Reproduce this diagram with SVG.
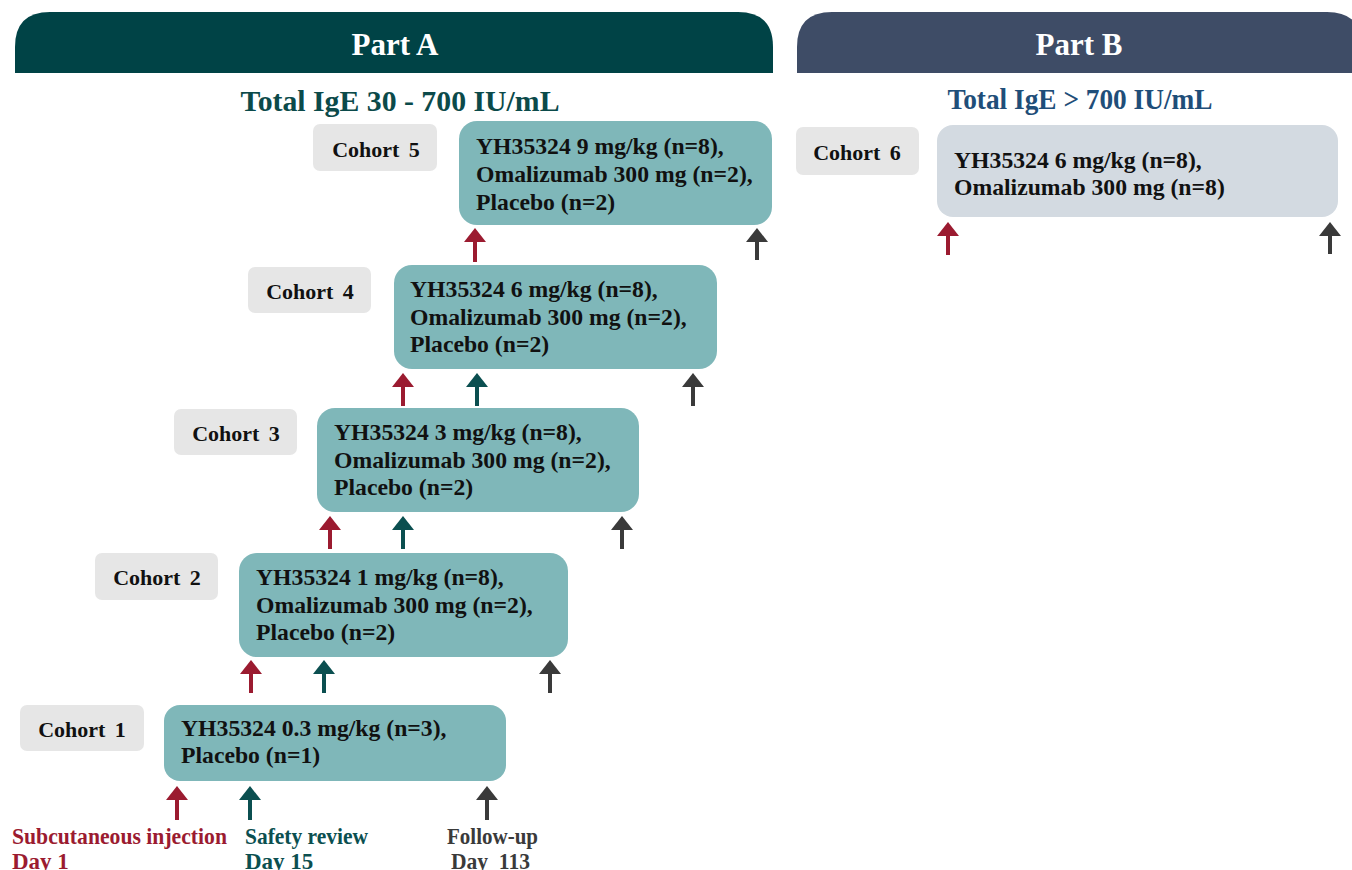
<svg xmlns="http://www.w3.org/2000/svg" width="1352" height="870" viewBox="0 0 1352 870">
<style>
text{font-family:"Liberation Serif","Times New Roman",serif;font-weight:bold}
.hdr{fill:#fff;font-size:31px;text-anchor:middle}
.lbl{fill:#E6E6E6}
.lt{font-size:22px;fill:#111;text-anchor:middle;word-spacing:4px}
.box{fill:#7FB7B9}
.bt{font-size:23.7px;fill:#111}
.ar{stroke-width:4;fill:none}
.r{stroke:#9B1B30}.t{stroke:#0B4F50}.g{stroke:#3A3A3A}
.lg{font-size:23px}
</style>
<defs>
<marker id="mr" viewBox="0 -11 14 22" markerWidth="14" markerHeight="22" refX="0" refY="0" markerUnits="userSpaceOnUse" orient="auto"><path d="M0,-11L14,0L0,11Z" fill="#9B1B30"/></marker>
<marker id="mt" viewBox="0 -11 14 22" markerWidth="14" markerHeight="22" refX="0" refY="0" markerUnits="userSpaceOnUse" orient="auto"><path d="M0,-11L14,0L0,11Z" fill="#0B4F50"/></marker>
<marker id="mg" viewBox="0 -11 14 22" markerWidth="14" markerHeight="22" refX="0" refY="0" markerUnits="userSpaceOnUse" orient="auto"><path d="M0,-11L14,0L0,11Z" fill="#3A3A3A"/></marker>
</defs>
<g id="partA-header">
<path d="M15,73V47Q15,12 50,12H738Q773,12 773,47V73Z" fill="#004346"/>
<text class="hdr" x="395" y="55">Part A</text>
<text x="400" y="111" font-size="30" fill="#0B4A4A" text-anchor="middle" textLength="319" lengthAdjust="spacingAndGlyphs">Total IgE 30 - 700 IU/mL</text>
</g>
<g id="partB-header">
<path d="M797,73V47Q797,12 832,12H1327Q1362,12 1362,47V73Z" fill="#3E4C66"/>
<text class="hdr" x="1079" y="55">Part B</text>
<text x="1080" y="109" font-size="29" fill="#1F4E79" text-anchor="middle" textLength="265" lengthAdjust="spacingAndGlyphs">Total IgE &gt; 700 IU/mL</text>
</g>
<g id="cohort5">
<rect class="lbl" x="313" y="124" width="124" height="47" rx="7"/>
<text class="lt" x="376" y="157">Cohort 5</text>
<rect class="box" x="459" y="121" width="313" height="104" rx="18"/>
<text class="bt" x="476" y="154">YH35324 9 mg/kg (n=8),</text>
<text class="bt" x="476" y="182">Omalizumab 300 mg (n=2),</text>
<text class="bt" x="476" y="210">Placebo (n=2)</text>
</g>
<g id="cohort4">
<rect class="lbl" x="248" y="267" width="123" height="46" rx="7"/>
<text class="lt" x="310" y="299">Cohort 4</text>
<rect class="box" x="394" y="265" width="323" height="104" rx="18"/>
<text class="bt" x="410" y="297">YH35324 6 mg/kg (n=8),</text>
<text class="bt" x="410" y="325">Omalizumab 300 mg (n=2),</text>
<text class="bt" x="410" y="352">Placebo (n=2)</text>
</g>
<g id="cohort3">
<rect class="lbl" x="174" y="409" width="123" height="46" rx="7"/>
<text class="lt" x="236" y="441">Cohort 3</text>
<rect class="box" x="317" y="408" width="322" height="104" rx="18"/>
<text class="bt" x="334" y="440">YH35324 3 mg/kg (n=8),</text>
<text class="bt" x="334" y="468">Omalizumab 300 mg (n=2),</text>
<text class="bt" x="334" y="495">Placebo (n=2)</text>
</g>
<g id="cohort2">
<rect class="lbl" x="95" y="553" width="123" height="47" rx="7"/>
<text class="lt" x="157" y="585">Cohort 2</text>
<rect class="box" x="239" y="553" width="329" height="104" rx="18"/>
<text class="bt" x="256" y="585">YH35324 1 mg/kg (n=8),</text>
<text class="bt" x="256" y="613">Omalizumab 300 mg (n=2),</text>
<text class="bt" x="256" y="640">Placebo (n=2)</text>
</g>
<g id="cohort1">
<rect class="lbl" x="20" y="705" width="124" height="46" rx="7"/>
<text class="lt" x="82" y="737">Cohort 1</text>
<rect class="box" x="164" y="705" width="342" height="76" rx="16"/>
<text class="bt" x="181" y="736">YH35324 0.3 mg/kg (n=3),</text>
<text class="bt" x="181" y="763">Placebo (n=1)</text>
</g>
<g id="cohort6">
<rect class="lbl" x="796" y="127" width="123" height="48" rx="7"/>
<text class="lt" x="857" y="160">Cohort 6</text>
<rect x="937" y="125" width="401" height="92" rx="16" fill="#D3DAE1"/>
<text class="bt" x="954" y="168">YH35324 6 mg/kg (n=8),</text>
<text class="bt" x="954" y="195">Omalizumab 300 mg (n=8)</text>
</g>
<g id="connectors">
<line class="ar r" x1="475" y1="262" x2="475" y2="242" marker-end="url(#mr)"/>
<line class="ar g" x1="757" y1="260" x2="757" y2="242" marker-end="url(#mg)"/>
<line class="ar r" x1="403" y1="406" x2="403" y2="387" marker-end="url(#mr)"/>
<line class="ar t" x1="477" y1="406" x2="477" y2="387" marker-end="url(#mt)"/>
<line class="ar g" x1="693" y1="406" x2="693" y2="387" marker-end="url(#mg)"/>
<line class="ar r" x1="330" y1="549" x2="330" y2="530" marker-end="url(#mr)"/>
<line class="ar t" x1="403" y1="549" x2="403" y2="530" marker-end="url(#mt)"/>
<line class="ar g" x1="622" y1="549" x2="622" y2="530" marker-end="url(#mg)"/>
<line class="ar r" x1="251" y1="693" x2="251" y2="674" marker-end="url(#mr)"/>
<line class="ar t" x1="324" y1="693" x2="324" y2="674" marker-end="url(#mt)"/>
<line class="ar g" x1="550" y1="693" x2="550" y2="674" marker-end="url(#mg)"/>
<line class="ar r" x1="177" y1="820" x2="177" y2="800" marker-end="url(#mr)"/>
<line class="ar t" x1="250" y1="820" x2="250" y2="800" marker-end="url(#mt)"/>
<line class="ar g" x1="487" y1="820" x2="487" y2="800" marker-end="url(#mg)"/>
<line class="ar r" x1="948" y1="255" x2="948" y2="236" marker-end="url(#mr)"/>
<line class="ar g" x1="1330" y1="254" x2="1330" y2="236" marker-end="url(#mg)"/>
</g>
<g id="legend">
<text class="lg" x="12" y="844" fill="#9B1B30" textLength="215" lengthAdjust="spacingAndGlyphs">Subcutaneous injection</text>
<text class="lg" x="12" y="869" fill="#9B1B30">Day 1</text>
<text class="lg" x="245" y="844" fill="#0B4F50" textLength="123" lengthAdjust="spacingAndGlyphs">Safety review</text>
<text class="lg" x="245" y="869" fill="#0B4F50">Day 15</text>
<text class="lg" x="447" y="844" fill="#3A3A3A" textLength="91" lengthAdjust="spacingAndGlyphs">Follow-up</text>
<text class="lg" x="451" y="869" fill="#3A3A3A" xml:space="preserve" textLength="79" lengthAdjust="spacingAndGlyphs">Day  113</text>
</g>
</svg>
